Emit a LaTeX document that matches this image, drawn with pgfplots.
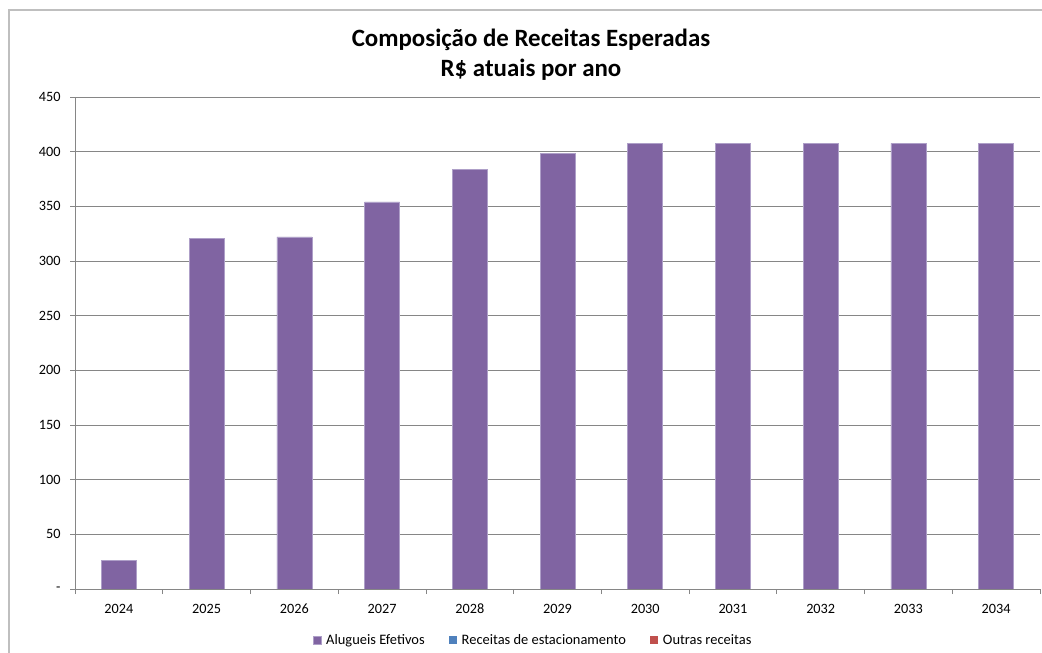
\documentclass[border=0pt]{standalone}
\usepackage{fontspec}
\setmainfont{Carlito}
\usepackage{pgfplots}
\usepackage{pgfplotstable}
\pgfplotsset{compat=1.18}

\definecolor{alug}{HTML}{8064A2}
\definecolor{alugedge}{HTML}{AE9FC8}
\definecolor{estac}{HTML}{4F81BD}
\definecolor{outras}{HTML}{C0504D}
\definecolor{gridc}{HTML}{868686}
\definecolor{framec}{HTML}{BFBFBF}

% R$ atuais por ano
\pgfplotstableread{
x ano  alug  estac outras
0 2024  26   0 0
1 2025 321   0 0
2 2026 322   0 0
3 2027 354   0 0
4 2028 384   0 0
5 2029 398.5 0 0
6 2030 407.5 0 0
7 2031 407.5 0 0
8 2032 407.5 0 0
9 2033 407.5 0 0
10 2034 407.5 0 0
}\receitas

\begin{document}
\begin{tikzpicture}
\begin{axis}[
    at={(75bp,64bp)}, anchor=south west,
    scale only axis, width=965bp, height=492bp,
    ybar stacked, bar width=35bp,
    xmin=-0.5, xmax=10.5, ymin=0, ymax=450,
    xtick={-0.5,0.5,...,10.5},
    x tick label as interval,
    xticklabels={2024,2025,2026,2027,2028,2029,2030,2031,2032,2033,2034},
    ytick={0,50,...,450},
    yticklabels={-,50,100,150,200,250,300,350,400,450},
    axis x line*=bottom, axis y line*=left,
    axis line style={gridc, line width=0.8bp},
    ymajorgrids, grid style={gridc, line width=0.8bp},
    tick align=outside, major tick length=5bp,
    tick style={gridc, line width=0.8bp},
    ticklabel style={font=\fontsize{14.3}{17}\selectfont},
    xticklabel style={anchor=north, text height=10bp, text depth=0bp, yshift=-6bp},
    yticklabel style={xshift=-6bp},
    /pgf/number format/assume math mode=true,
    legend style={draw=none, fill=none, at={(0.4746,-0.1037)}, anchor=center,
        font=\fontsize{14.5}{17}\selectfont,
        /tikz/every odd column/.append style={column sep=3bp},
        /tikz/every even column/.append style={column sep=22bp}},
    legend columns=3,
    legend image code/.code={\fill[#1] (0bp,-4bp) rectangle (8bp,4bp);},
]
\addplot[fill=alug, draw=alugedge, line width=0.6bp] table[x=x, y=alug] {\receitas};
\addlegendentry{Alugueis Efetivos}
\addplot[fill=estac, draw=none] table[x=x, y=estac] {\receitas};
\addlegendentry{Receitas de estacionamento}
\addplot[fill=outras, draw=none] table[x=x, y=outras] {\receitas};
\addlegendentry{Outras receitas}
\end{axis}
\node[font=\fontsize{25}{30}\selectfont\bfseries] at (531bp,613bp) {Composição de Receitas Esperadas};
\node[font=\fontsize{25}{30}\selectfont\bfseries] at (531bp,583bp) {R\$ atuais por ano};
\draw[framec, line width=1.5bp] (9bp,0) -- (9bp,643bp) -- (1042bp,643bp);
\pgfresetboundingbox
\path[use as bounding box] (0,0) rectangle (1042bp,653bp);
\end{tikzpicture}
\end{document}
